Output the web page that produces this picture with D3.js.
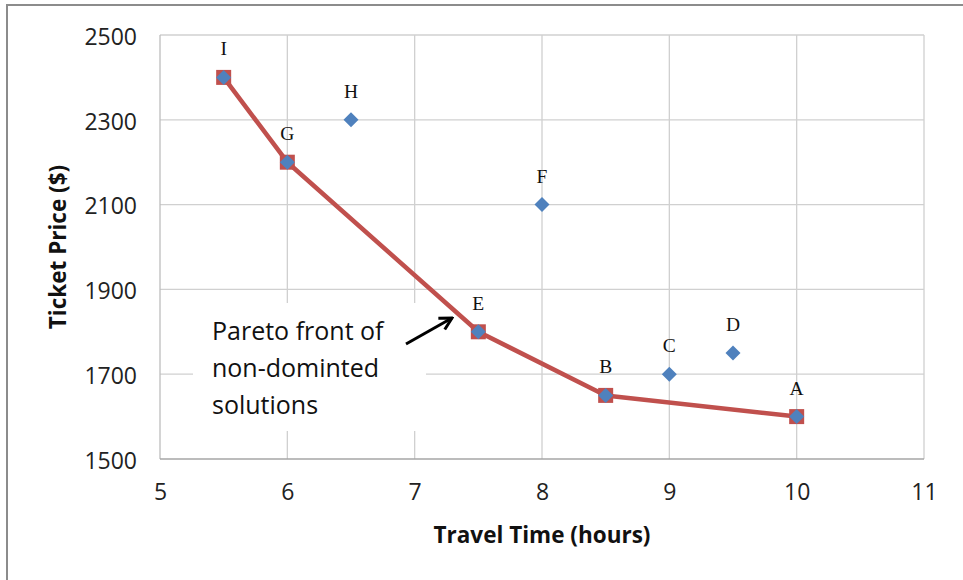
<!DOCTYPE html>
<html>
<head>
<meta charset="utf-8">
<script src="https://cdn.jsdelivr.net/npm/d3@7"></script>
<style>
  html, body { margin: 0; padding: 0; background: #fff; }
  svg { display: block; }
</style>
</head>
<body>
<svg id="chart" width="963" height="580"></svg>
<script>
// Flight options: travel time (hours) vs ticket price ($)
const labels = ["A", "B", "C", "D", "E", "F", "G", "H", "I"];
const travelTime = [10, 8.5, 9, 9.5, 7.5, 8, 6, 6.5, 5.5];
const ticketPrice = [1600, 1650, 1700, 1750, 1800, 2100, 2200, 2300, 2400];

// Non-dominated options, in order along the front
const paretoLabels = ["I", "G", "E", "B", "A"];

const xTicks = [5, 6, 7, 8, 9, 10, 11];
const yTicks = [1500, 1700, 1900, 2100, 2300, 2500];

const noteLines = ["Pareto front of", "non-dominted", "solutions"];

const svg = d3.select("#chart");
const W = 963, H = 580;
const plot = { left: 160, right: 924, top: 35, bottom: 459 };

const uiFont = "'Open Sans', 'Liberation Sans', Arial, sans-serif";
const serifFont = "'Liberation Serif', 'DejaVu Serif', serif";

// outer frame
svg.append("rect")
  .attr("x", 7).attr("y", 5)
  .attr("width", W + 10).attr("height", H + 10)
  .attr("fill", "#fff")
  .attr("stroke", "#8c8c8c").attr("stroke-width", 2);

const x = d3.scaleLinear().domain([5, 11]).range([plot.left, plot.right]);
const y = d3.scaleLinear().domain([1500, 2500]).range([plot.bottom, plot.top]);

// gridlines
const grid = svg.append("g");
grid.selectAll("line.v").data(xTicks.slice(1)).join("line")
  .attr("class", "v")
  .attr("x1", d => x(d)).attr("x2", d => x(d))
  .attr("y1", plot.top).attr("y2", plot.bottom)
  .attr("stroke", "#d0d0d0").attr("stroke-width", 1.3);
grid.selectAll("line.h").data(yTicks.slice(1)).join("line")
  .attr("class", "h")
  .attr("x1", plot.left).attr("x2", plot.right)
  .attr("y1", d => y(d)).attr("y2", d => y(d))
  .attr("stroke", "#d0d0d0").attr("stroke-width", 1.3);

// axes lines
svg.append("line")
  .attr("x1", plot.left).attr("x2", plot.left)
  .attr("y1", plot.top).attr("y2", plot.bottom)
  .attr("stroke", "#bdbdbd").attr("stroke-width", 1.3);
svg.append("line")
  .attr("x1", plot.left).attr("x2", plot.right)
  .attr("y1", plot.bottom).attr("y2", plot.bottom)
  .attr("stroke", "#a6a6a6").attr("stroke-width", 1.5);

// tick labels via d3 axes
const xAxis = svg.append("g")
  .attr("transform", `translate(0,${plot.bottom})`)
  .call(d3.axisBottom(x).tickValues(xTicks).tickSize(0).tickPadding(27).tickFormat(d3.format("d")));
const yAxis = svg.append("g")
  .attr("transform", `translate(${plot.left},0)`)
  .call(d3.axisLeft(y).tickValues(yTicks).tickSize(0).tickPadding(23).tickFormat(d3.format("d")));
[xAxis, yAxis].forEach(a => {
  a.select(".domain").remove();
  a.selectAll("text")
    .attr("font-family", uiFont)
    .attr("font-size", 23)
    .attr("fill", "#222");
});
yAxis.selectAll("text").attr("dy", "0.4em");
xAxis.selectAll("text").attr("dy", "0.62em");

// axis titles
svg.append("text")
  .attr("x", (plot.left + plot.right) / 2)
  .attr("y", 543)
  .attr("text-anchor", "middle")
  .attr("font-family", uiFont)
  .attr("font-weight", "bold")
  .attr("font-size", 22.5)
  .attr("fill", "#111")
  .text("Travel Time (hours)");
svg.append("text")
  .attr("transform", "translate(66,247) rotate(-90)")
  .attr("text-anchor", "middle")
  .attr("font-family", uiFont)
  .attr("font-weight", "bold")
  .attr("font-size", 22.5)
  .attr("fill", "#111")
  .text("Ticket Price ($)");

// annotation box (covers gridlines)
svg.append("rect")
  .attr("x", 193).attr("y", 303)
  .attr("width", 233).attr("height", 128)
  .attr("fill", "#fff");
svg.append("text")
  .attr("font-family", uiFont)
  .attr("font-size", 25)
  .attr("fill", "#111")
  .selectAll("tspan").data(noteLines).join("tspan")
  .attr("x", 212)
  .attr("y", (d, i) => 340 + i * 37)
  .text(d => d);

// arrow
svg.append("defs").append("marker")
  .attr("id", "arrowhead")
  .attr("viewBox", "0 0 16 16")
  .attr("markerUnits", "userSpaceOnUse")
  .attr("refX", 14).attr("refY", 8)
  .attr("markerWidth", 16).attr("markerHeight", 16)
  .attr("orient", "auto")
  .append("path")
  .attr("d", "M2,1.5 L14,8 L2,14.5")
  .attr("fill", "none").attr("stroke", "#000")
  .attr("stroke-width", 3).attr("stroke-linejoin", "miter");
svg.append("line")
  .attr("x1", 406).attr("y1", 344)
  .attr("x2", 452).attr("y2", 318)
  .attr("stroke", "#000").attr("stroke-width", 3)
  .attr("marker-end", "url(#arrowhead)");

// data
const points = labels.map((l, i) => ({ label: l, t: travelTime[i], p: ticketPrice[i] }));
const byLabel = new Map(points.map(d => [d.label, d]));
const front = paretoLabels.map(l => byLabel.get(l));

// Pareto front line
svg.append("path")
  .datum(front)
  .attr("d", d3.line().x(d => x(d.t)).y(d => y(d.p)))
  .attr("fill", "none")
  .attr("stroke", "#C0504D")
  .attr("stroke-width", 4.5)
  .attr("stroke-linejoin", "round");

// square markers on the front
svg.selectAll("rect.front").data(front).join("rect")
  .attr("class", "front")
  .attr("x", d => x(d.t) - 7.5).attr("y", d => y(d.p) - 7.5)
  .attr("width", 15).attr("height", 15)
  .attr("fill", "#C0504D");

// diamond markers for all options
svg.selectAll("path.pt").data(points).join("path")
  .attr("class", "pt")
  .attr("transform", d => `translate(${x(d.t)},${y(d.p)})`)
  .attr("d", "M0,-7.5 L7.5,0 L0,7.5 L-7.5,0 Z")
  .attr("fill", "#4F81BD");

// point labels
svg.selectAll("text.lbl").data(points).join("text")
  .attr("class", "lbl")
  .attr("x", d => x(d.t))
  .attr("y", d => y(d.p) - 22)
  .attr("text-anchor", "middle")
  .attr("font-family", serifFont)
  .attr("font-size", 19.5)
  .attr("fill", "#111")
  .text(d => d.label);
</script>
</body>
</html>
